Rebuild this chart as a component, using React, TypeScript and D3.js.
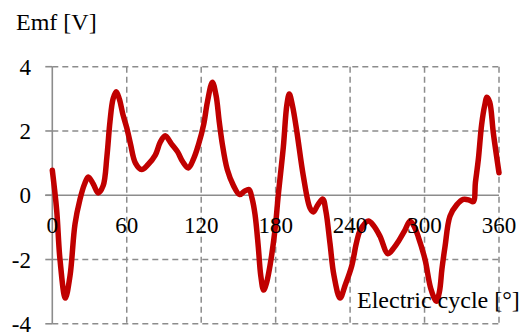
import React from "react";
import * as d3 from "d3";

// Electric angle samples [°] and the back-EMF waveform [V]
const angles = [
  0, 3.5, 6.2, 10.5, 14.3, 18.3, 22.3, 26, 29, 33, 37, 41, 44, 46.5, 49, 51.5, 54, 57, 60, 63, 67, 72, 77,
  83, 87, 91, 96, 101, 105, 109.6, 114, 118, 122, 125, 129, 132, 134.5, 137, 141, 146, 151, 155, 158.5,
  161, 163.4, 166, 168, 170.3, 172.5, 175.4, 179.5, 182.1, 186.2, 189, 191, 193.5, 197, 202.3, 207.7,
  210.4, 214, 218, 220.5, 223.8, 227, 231.9, 236, 241.3, 245, 248, 254.7, 259, 264, 270.5, 275, 279, 284,
  288.3, 292, 295, 300.4, 305, 309.5, 312, 314, 316.5, 320.5, 325.9, 331.2, 336, 339.3, 341, 343.3, 346,
  348.5, 350.3, 352.5, 355.4, 360,
];
const emf = [
  0.78, -0.45, -2.0, -3.2, -2.5, -0.9, -0.13, 0.35, 0.57, 0.35, 0.07, 0.3, 1.2, 2.3, 3.0, 3.22, 3.0, 2.5,
  2.1, 1.6, 1.0, 0.8, 0.95, 1.25, 1.65, 1.85, 1.6, 1.35, 1.05, 0.85, 1.15, 1.6, 2.2, 2.9, 3.52, 3.1, 2.3,
  1.6, 0.8, 0.3, 0.02, 0.13, 0.18, -0.1, -0.6, -1.6, -2.5, -2.95, -2.75, -2.2, -1.07, 0.0, 1.5, 2.8, 3.15,
  2.8, 2.0, 0.6, -0.4, -0.52, -0.3, -0.12, -0.5, -1.5, -2.5, -3.2, -2.8, -2.2, -1.5, -1.1, -0.8, -0.95,
  -1.27, -1.82, -1.65, -1.43, -1.1, -0.8, -1.0, -1.3, -2.0, -2.9, -3.3, -3.0, -2.3, -1.6, -0.65, -0.3,
  -0.13, -0.15, -0.2, 0.4, 1.1, 2.2, 2.8, 3.05, 2.9, 1.95, 0.7,
];

const xTicks = [0, 60, 120, 180, 240, 300, 360];
const yTicks = [-4, -2, 0, 2, 4];

const W = 531;
const H = 335;
const FONT = "'Liberation Serif', 'Times New Roman', serif";
const GRID = "#8c8c8c";

export default function App() {
  const x = d3.scaleLinear().domain([0, 360]).range([52.3, 499]);
  const y = d3.scaleLinear().domain([-4, 4]).range([323.8, 66.7]);

  const points: [number, number][] = angles.map((a, i) => [a, emf[i]]);
  const line = d3
    .line<[number, number]>()
    .x((d) => x(d[0]))
    .y((d) => y(d[1]))
    .curve(d3.curveCatmullRom.alpha(0.5));

  return (
    <svg
      width={W}
      height={H}
      style={{ position: "absolute", left: 0, top: 0, background: "#fff" }}
      fontFamily={FONT}
    >
      {/* dashed grid */}
      <g stroke={GRID} strokeWidth={1.5} strokeDasharray="6,4" fill="none">
        {yTicks
          .filter((t) => t !== 0)
          .map((t) => (
            <line key={"h" + t} x1={x(0)} x2={x(360)} y1={y(t)} y2={y(t)} />
          ))}
        {xTicks
          .filter((t) => t !== 0)
          .map((t) => (
            <line key={"v" + t} x1={x(t)} x2={x(t)} y1={y(4)} y2={y(-4)} />
          ))}
      </g>

      {/* solid axes */}
      <g stroke={GRID} strokeWidth={1.6} fill="none">
        <line x1={x(0)} x2={x(0)} y1={y(4)} y2={y(-4)} />
        <line x1={x(0) - 7} x2={x(360)} y1={y(0)} y2={y(0)} />
        {yTicks.map((t) => (
          <line key={"t" + t} x1={x(0) - 7} x2={x(0)} y1={y(t)} y2={y(t)} />
        ))}
      </g>

      {/* y tick labels */}
      <g fontSize={23} fill="#000" textAnchor="end">
        {yTicks.map((t) => (
          <text key={"yl" + t} x={31} y={y(t) + 8}>
            {t}
          </text>
        ))}
      </g>

      {/* waveform */}
      <path d={line(points) ?? ""} fill="none" stroke="#c00000" strokeWidth={5.5} strokeLinejoin="round" strokeLinecap="round" />

      {/* x tick labels along the zero line */}
      <g fontSize={23} fill="#000" textAnchor="middle">
        {xTicks.map((t) => (
          <text key={"xl" + t} x={x(t)} y={232.5}>
            {t}
          </text>
        ))}
      </g>

      <text x={16} y={29.5} fontSize={24} fill="#000">
        Emf [V]
      </text>
      <text x={357} y={308.3} fontSize={24} fill="#000">
        Electric cycle [°]
      </text>
    </svg>
  );
}
